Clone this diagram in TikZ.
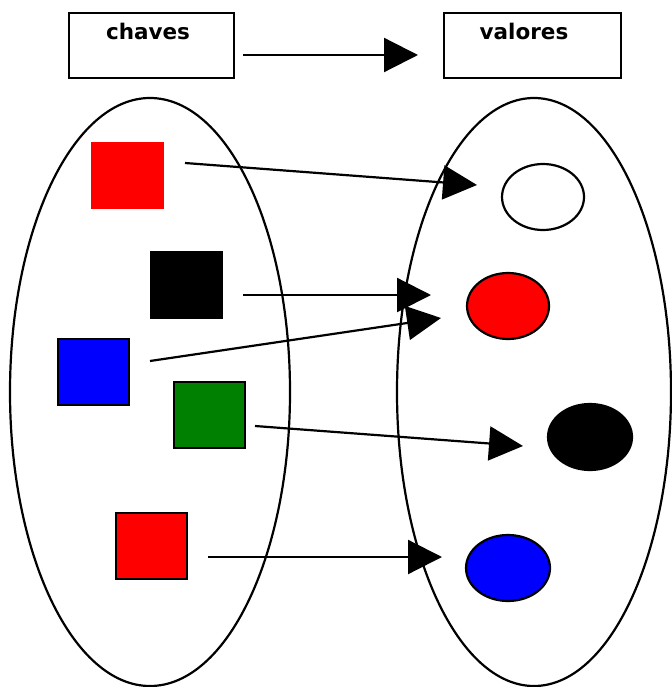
\documentclass[tikz,border=0pt]{standalone}
\usepackage{fontspec}
\setsansfont{DejaVu Sans}
\usetikzlibrary{arrows.meta,shapes.geometric}
\begin{document}
\begin{tikzpicture}[x=1pt,y=-1pt,
  lbl/.style={draw,line width=2.2pt,minimum width=165pt,minimum height=65pt,anchor=north west,inner sep=0},
  sq/.style={draw,line width=2pt,minimum width=71pt,minimum height=66pt,inner sep=0},
  dot/.style={draw,line width=2.2pt,ellipse,minimum width=82pt,minimum height=66pt,inner sep=0},
  arr/.style={line width=2.2pt,-{Triangle[length=34pt,width=34pt]}},
  big/.style={draw,line width=2.2pt,ellipse,inner sep=0},
  ttl/.style={font=\sffamily\bfseries\fontsize{21.5}{25}\selectfont}]
\useasboundingbox (0,0) rectangle (671,687);
% title boxes
\node[lbl] (kb) at (68,12) {};
\node[ttl] (kt) at (148,31) {chaves};
\node[lbl,minimum width=177pt] (vb) at (443,12) {};
\node[ttl] (vt) at (524,31) {valores};
\coordinate (ta) at (243,55);
\coordinate (tb) at (418,55);
\draw[arr] (ta) -- (tb);
% big ellipses
\node[big,minimum width=280pt,minimum height=588pt] (L) at (150,392) {};
\node[big,minimum width=274pt,minimum height=588pt] (R) at (534,392) {};
% keys
\node[sq,draw=none,fill=red,minimum width=73pt,minimum height=67pt] (k1) at (127.5,175.5) {};
\node[sq,fill=black] (k2) at (186,284.5) {};
\node[sq,fill=blue] (k3) at (93.5,372) {};
\node[sq,fill={rgb,255:red,0;green,128;blue,0}] (k4) at (209.5,414.5) {};
\node[sq,fill=red] (k5) at (151.5,546) {};
% values
\node[dot,fill=white] (v1) at (543,197) {};
\node[dot,fill=red] (v2) at (508,306) {};
\node[dot,fill=black,minimum width=84pt] (v3) at (590,437) {};
\node[dot,fill=blue,minimum width=84pt] (v4) at (508,568) {};
% arrows
\coordinate (a1s) at (185,163); \coordinate (a1e) at (477,185);
\coordinate (a2s) at (243,295); \coordinate (a2e) at (431,295);
\coordinate (a3s) at (150,361); \coordinate (a3e) at (441,318);
\coordinate (a4s) at (255,426); \coordinate (a4e) at (523,446);
\coordinate (a5s) at (208,557); \coordinate (a5e) at (442,557);
\draw[arr] (a1s) -- (a1e);
\draw[arr] (a2s) -- (a2e);
\draw[arr] (a3s) -- (a3e);
\draw[arr] (a4s) -- (a4e);
\draw[arr] (a5s) -- (a5e);
\end{tikzpicture}
\end{document}
